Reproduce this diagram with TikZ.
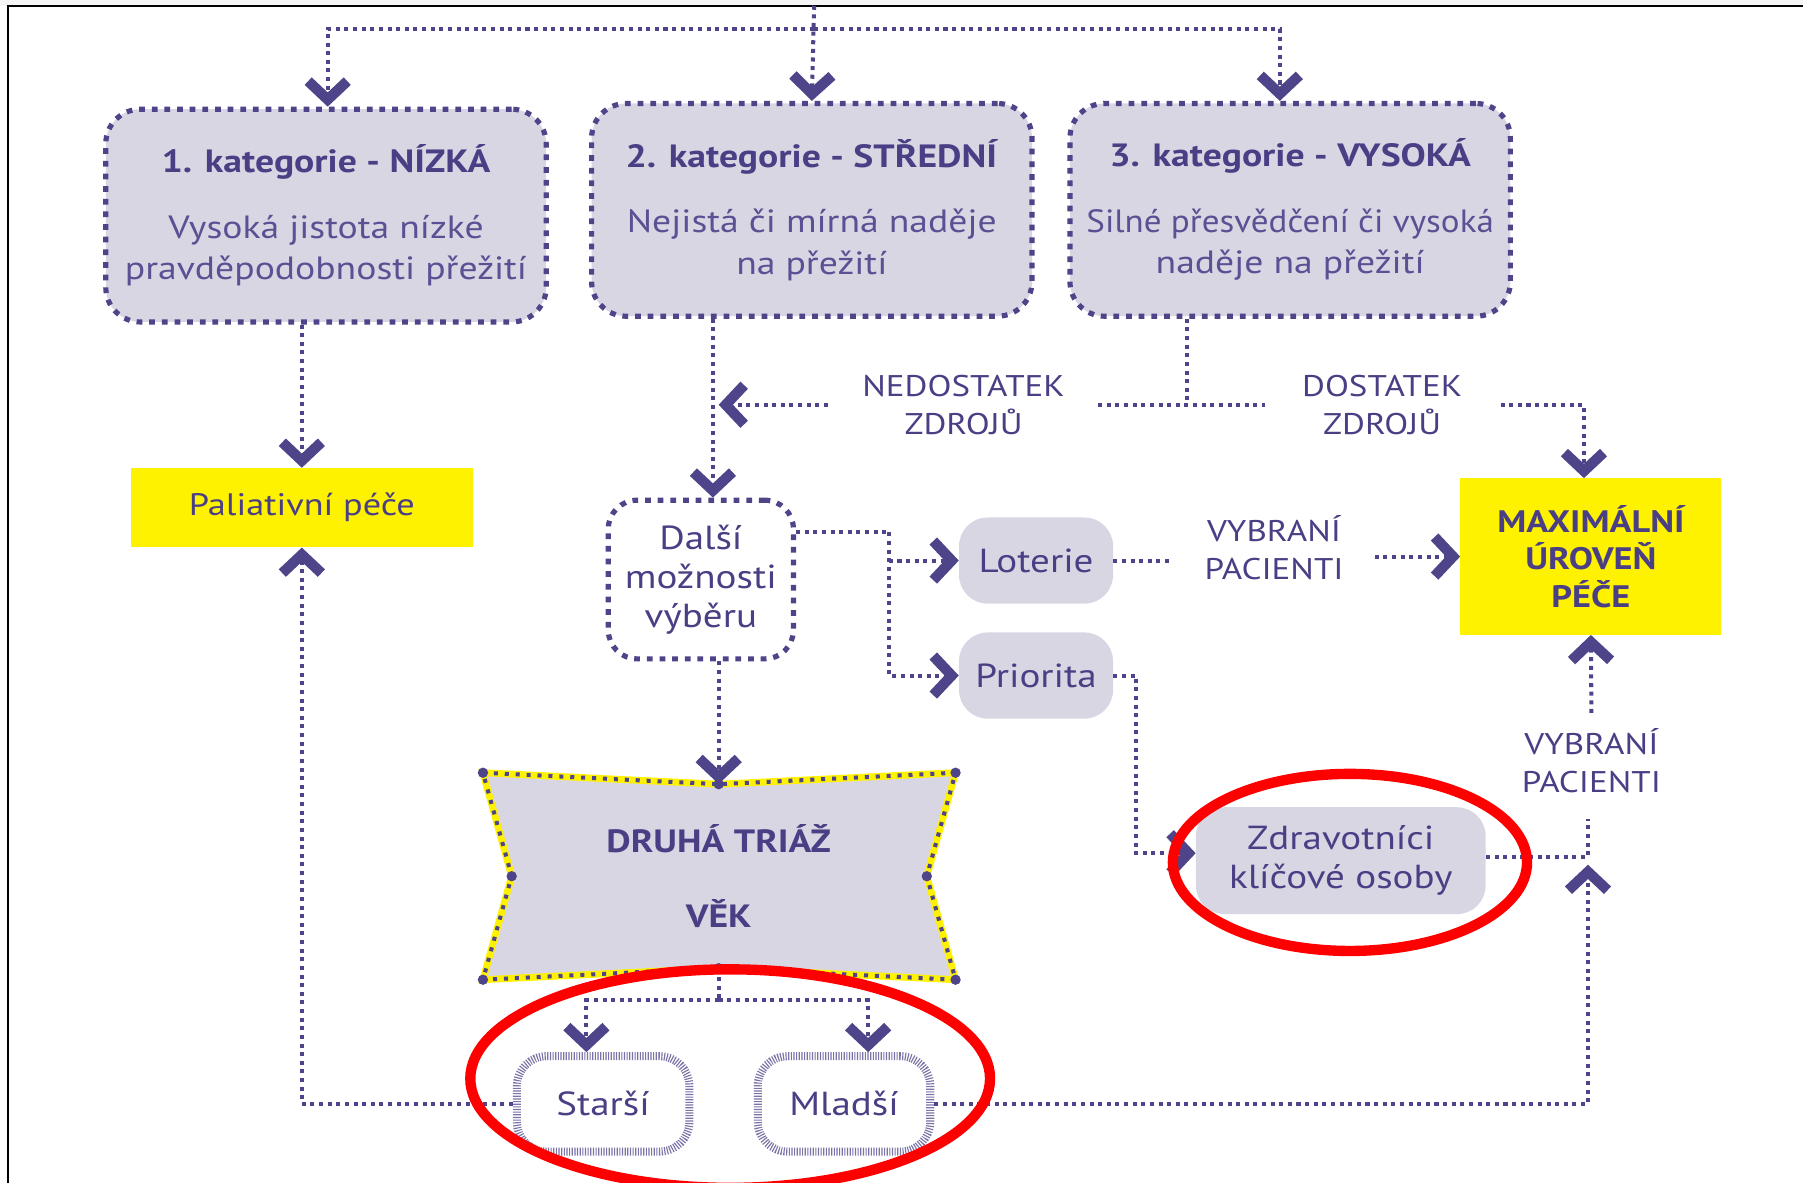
\documentclass[tikz,border=0pt]{standalone}
\usepackage{fontspec}
\setmainfont{PT Sans}[FakeStretch=1.17]
\usetikzlibrary{arrows.meta}
\definecolor{pur}{HTML}{4E4489}
\definecolor{ptext}{HTML}{4A3F85}
\definecolor{psub}{HTML}{5A5093}
\definecolor{lav}{HTML}{D9D6E4}
\definecolor{yel}{HTML}{FFF200}
\definecolor{mark}{HTML}{FF0000}
\tikzset{
  line/.style={draw=pur, line width=3.5pt, dash pattern=on 3.5pt off 4pt},
  arr/.style={line, -{Straight Barb[length=16pt,width=34pt,line width=9pt,sharp]}},
  cat/.style={draw=pur, line width=4.5pt, dash pattern=on 5pt off 6pt, fill=lav,
    rounded corners=30pt, minimum width=383pt, minimum height=185pt, inner sep=0pt,
    align=center, text=psub, font=\fontsize{28}{36}\selectfont},
  ybox/.style={fill=yel, inner sep=0pt, align=center, text=ptext},
  pill/.style={fill=lav, rounded corners=25pt, inner sep=0pt, align=center, text=ptext,
    font=\fontsize{29}{34}\selectfont},
  lbl/.style={align=center, text=ptext, inner sep=0pt, font=\fontsize{26}{33}\selectfont},
  hatch/.style={draw=pur!75, line width=7pt, dash pattern=on 1pt off 1.3pt, fill=white,
    rounded corners=26pt, minimum width=150pt, minimum height=83pt, inner sep=0pt,
    text=ptext, font=\fontsize{29}{34}\selectfont},
  ring/.style={draw=mark, line width=9pt}
}
\begin{document}
\begin{tikzpicture}[x=1pt,y=-1pt]
\useasboundingbox (0,0) rectangle (1568,1028);
\clip (0,0) rectangle (1568,1028);
\fill[gray!8] (0,0) rectangle (1568,5);
\draw[black, line width=2pt] (7,1030) -- (7,5) -- (1570,5);

% category boxes
\node[cat] (b1) at (283.5,187.5) {\textcolor{ptext}{\textbf{1. kategorie - NÍZKÁ}}\\[21pt]Vysoká jistota nízké\\pravděpodobnosti přežití};
\node[cat] (b2) at (706,182.5) {\textcolor{ptext}{\textbf{2. kategorie - STŘEDNÍ}}\\[21pt]Nejistá či mírná naděje\\na přežití};
\node[cat] (b3) at (1122,182.5) {\textcolor{ptext}{\textbf{3. kategorie - VYSOKÁ}}\\[21pt]\scalebox{0.93}[1]{Silné přesvědčení či vysoká}\\naděje na přežití};

% yellow boxes
\node[ybox, minimum width=297pt, minimum height=69pt, font=\fontsize{27}{32}\selectfont] (pal) at (262.5,441.5) {Paliativní péče};
\node[ybox, minimum width=227pt, minimum height=136pt, font=\bfseries\fontsize{27}{32.5}\selectfont] (max) at (1383.5,484) {MAXIMÁLNÍ\\ÚROVEŇ\\PÉČE};

% other nodes
\node[draw=pur, line width=4.5pt, dash pattern=on 5pt off 6pt, fill=white, rounded corners=25pt,
  minimum width=161pt, minimum height=138pt, inner sep=0pt, align=center, text=ptext,
  font=\fontsize{29}{34}\selectfont] (dalsi) at (609.5,504) {Další\\možnosti\\výběru};
\node[pill, minimum width=134pt, minimum height=75pt] (lot) at (901,487.5) {Loterie};
\node[pill, minimum width=134pt, minimum height=75pt] (pri) at (901,587.5) {Priorita};
\node[pill, minimum width=252pt, minimum height=93pt] (zdr) at (1166,748.5) {Zdravotníci\\klíčové osoby};

\node[lbl] (nedost) at (838,352) {NEDOSTATEK\\ZDROJŮ};
\node[lbl] (dost) at (1202,352) {DOSTATEK\\ZDROJŮ};
\node[lbl, inner xsep=27pt] (vyb1) at (1108,476) {VYBRANÍ\\PACIENTI};
\node[lbl] (vyb2) at (1384,661.5) {VYBRANÍ\\PACIENTI};

% second triage shape
\path[fill=lav] (420,672) -- (625,682) -- (831,672) -- (806,762) -- (831,852) -- (625,842) -- (420,852) -- (445,762) -- cycle;
\draw[yel, line width=6pt, line join=miter] (420,672) -- (625,682) -- (831,672) -- (806,762) -- (831,852) -- (625,842) -- (420,852) -- (445,762) -- cycle;
\draw[pur, line width=3.5pt, dash pattern=on 3.5pt off 6pt] (420,672) -- (625,682) -- (831,672) -- (806,762) -- (831,852) -- (625,842) -- (420,852) -- (445,762) -- cycle;
\foreach \p in {(420,672),(625,682),(831,672),(806,762),(831,852),(625,842),(420,852),(445,762)}
  \fill[pur] \p circle (4.5pt);
\node[minimum width=411pt, minimum height=160pt, inner sep=0pt, align=center, text=ptext,
  font=\bfseries\fontsize{28}{65}\selectfont] (druha) at (625,762) {DRUHÁ TRIÁŽ\\VĚK};

\node[hatch] (starsi) at (524.5,960) {Starší};
\node[hatch] (mladsi) at (734,960) {Mladší};

% coordinates
\coordinate (top) at (708,5);
\coordinate (hub) at (708,25);
\coordinate (c2) at (620,352);
\coordinate (split) at (1032,352);
\coordinate (sl) at (955,352);
\coordinate (sr) at (1100,352);
\coordinate (nl) at (720,352);
\coordinate (dr) at (1305,352);
\coordinate (fork) at (773,463);
\coordinate (pz) at (988,742);
\coordinate (j) at (1381,745);
\coordinate (vb) at (1381,712);
\coordinate (vt) at (1384,620);
\coordinate (f2) at (618,870);

% connectors
\draw[arr] (top) -- (b2.north);
\draw[arr] (hub) -| ([xshift=1.5pt]b1.north);
\draw[arr] (hub) -| ([xshift=-9pt]b3.north);
\draw[arr] (b1.south -| pal.north) -- (pal.north);
\draw[arr] (b2.south -| c2) -- (c2 |- dalsi.north);
\draw[line] (b3.south -| split) -- (split);
\draw[line] (sl) -- (sr);
\draw[arr] (nl) -- ([xshift=5pt]c2);
\draw[arr] (dr) -| ([xshift=-6pt]max.north);
\draw[line] ([yshift=41pt]dalsi.east) -- (fork);
\draw[arr] (fork) |- (pri.west);
\draw[arr] (fork |- lot.west) -- (lot.west);
\draw[line] (lot.east) -- (lot.east -| vyb1.west);
\draw[arr] (vyb1.east |- max.west) -- (max.west);
\draw[arr] (pri.east) -| (pz) -- (pz -| zdr.west);
\draw[line] (zdr.east |- j) -- (j) -- (vb);
\draw[arr] (vt) -- (max.south);
\draw[arr] (mladsi.east) -| ([yshift=-7pt]j);
\draw[arr] (dalsi.south -| druha.north) -- (druha.north);
\draw[line] (druha.south) -- (druha.south |- f2);
\draw[arr] (druha.south |- f2) -| ([xshift=-14.5pt]starsi.north);
\draw[arr] (druha.south |- f2) -| ([xshift=21pt]mladsi.north);
\draw[arr] (starsi.west) -| (pal.south);

% red marks
\draw[ring] (1174,750) ellipse [x radius=154pt, y radius=77pt];
\draw[ring] (635,938) ellipse [x radius=226pt, y radius=95pt];
\end{tikzpicture}
\end{document}
